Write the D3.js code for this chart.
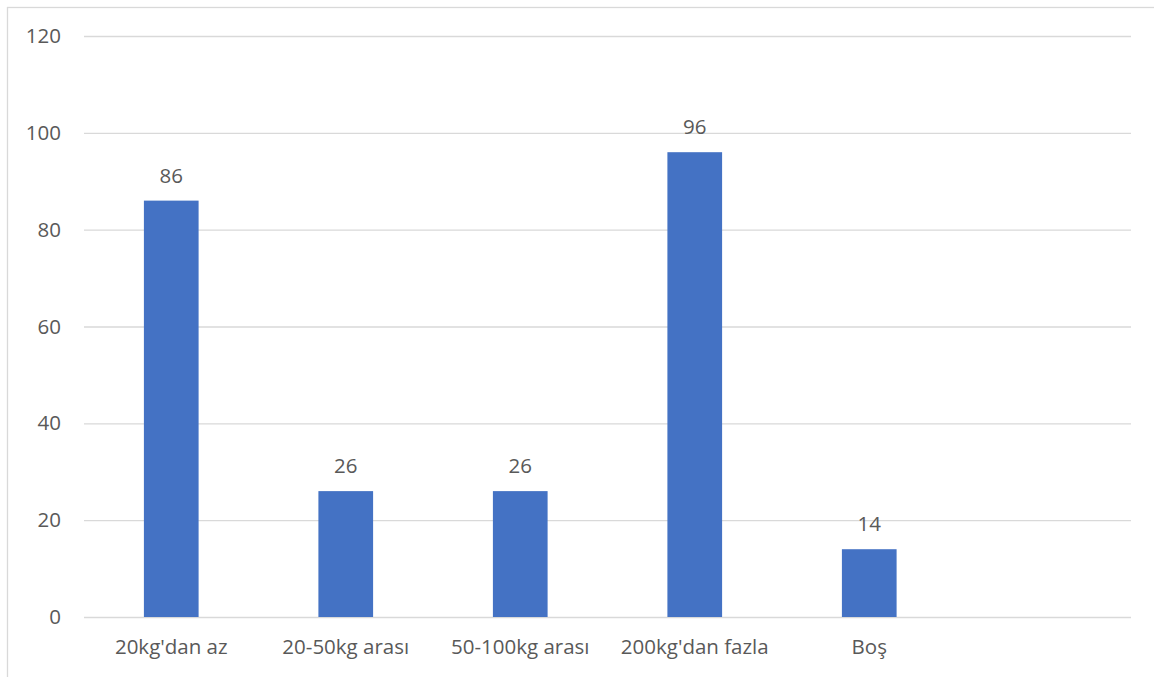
<!DOCTYPE html>
<html><head><meta charset="utf-8">
<script src="https://cdn.jsdelivr.net/npm/d3@7"></script>
<style>
html,body{margin:0;padding:0;background:#fff;}
svg{display:block;}
text{font-family:"Open Sans",sans-serif;fill:#595959;}
</style></head>
<body>
<svg id="chart" width="1154" height="677"></svg>
<script>
const categories = ["20kg'dan az", "20-50kg arası", "50-100kg arası", "200kg'dan fazla", "Boş", ""];
const values = [86, 26, 26, 96, 14, null];
const yTicks = [0, 20, 40, 60, 80, 100, 120];

const svg = d3.select("#chart");
const W = 1154, H = 677;
const m = {left: 84, right: 1131, top: 36, bottom: 617};
const FS = 20.5;

// chart border
svg.append("rect").attr("x", 7.5).attr("y", 7.5).attr("width", W + 10).attr("height", H + 10)
  .attr("fill", "none").attr("stroke", "#d9d9d9").attr("stroke-width", 1.3);

const x = d3.scaleBand().domain(d3.range(categories.length)).range([m.left, m.right]).padding(0);
const y = d3.scaleLinear().domain([0, 120]).range([m.bottom, m.top]);

// gridlines
const yAxis = d3.axisLeft(y).tickValues(yTicks).tickSize(-(m.right - m.left)).tickPadding(23);
const gy = svg.append("g").attr("transform", `translate(${m.left},0)`).call(yAxis);
gy.select(".domain").remove();
gy.selectAll(".tick line").attr("stroke", "#d9d9d9").attr("stroke-width", 1.3);
gy.selectAll(".tick text").attr("font-size", FS).attr("fill", "#595959")
  .style("font-family", "'Open Sans',sans-serif");

// x axis labels
const xAxis = d3.axisBottom(x).tickSize(0).tickPadding(22).tickFormat(i => categories[i]);
const gx = svg.append("g").attr("transform", `translate(0,${m.bottom})`).call(xAxis);
gx.select(".domain").remove();
gx.selectAll(".tick text").attr("font-size", FS).attr("fill", "#595959")
  .style("font-family", "'Open Sans',sans-serif");

const bw = x.bandwidth() / 3.19;
const data = values.map((v, i) => ({i, v})).filter(d => d.v != null);

svg.append("g").selectAll("rect").data(data).join("rect")
  .attr("x", d => x(d.i) + x.bandwidth() / 2 - bw / 2)
  .attr("y", d => y(d.v))
  .attr("width", bw)
  .attr("height", d => y(0) - y(d.v))
  .attr("fill", "#4472c4");

svg.append("g").selectAll("text").data(data).join("text")
  .attr("x", d => x(d.i) + x.bandwidth() / 2)
  .attr("y", d => y(d.v) - 18)
  .attr("text-anchor", "middle")
  .attr("font-size", FS)
  .text(d => d.v);
</script>
</body></html>
